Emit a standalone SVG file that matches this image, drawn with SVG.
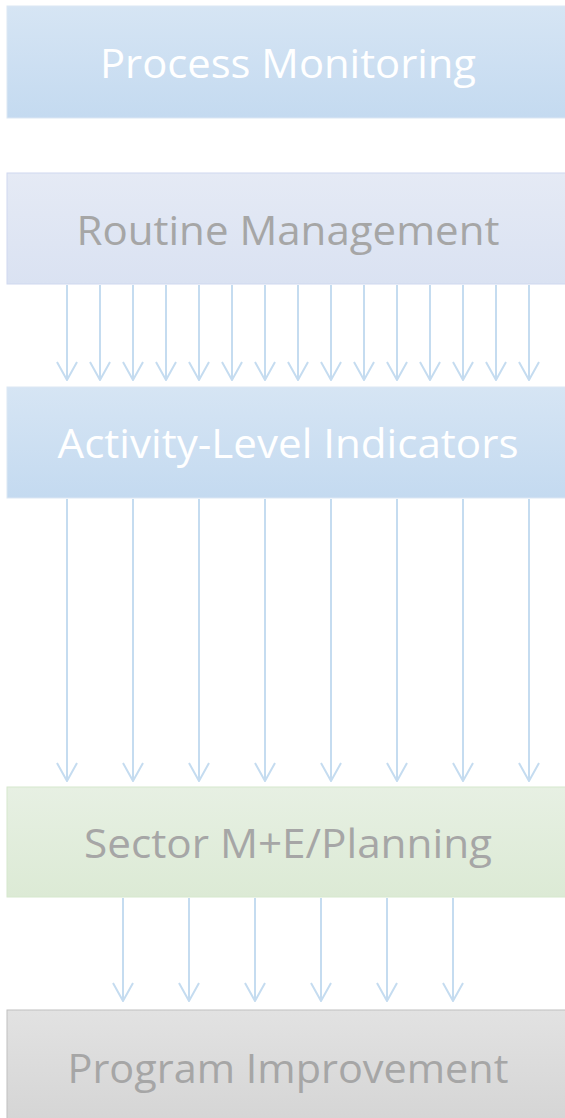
<svg xmlns="http://www.w3.org/2000/svg" width="565" height="1118" viewBox="0 0 565 1118">
<defs>
<linearGradient id="gBlue" x1="0" y1="0" x2="0" y2="1"><stop offset="0" stop-color="#d6e5f4"/><stop offset="1" stop-color="#c4daf0"/></linearGradient>
<linearGradient id="gLav" x1="0" y1="0" x2="0" y2="1"><stop offset="0" stop-color="#e5eaf5"/><stop offset="1" stop-color="#dae2f2"/></linearGradient>
<linearGradient id="gGreen" x1="0" y1="0" x2="0" y2="1"><stop offset="0" stop-color="#e7f0e3"/><stop offset="1" stop-color="#dcead5"/></linearGradient>
<linearGradient id="gGray" x1="0" y1="0" x2="0" y2="1"><stop offset="0" stop-color="#e2e2e2"/><stop offset="1" stop-color="#d5d5d5"/></linearGradient>
<marker id="arr" viewBox="0 0 20 24" refX="19" refY="12" markerWidth="20" markerHeight="24" markerUnits="userSpaceOnUse" orient="auto">
<path d="M1,2 L19,12 L1,22" fill="none" stroke="#c5dcf0" stroke-width="2"/>
</marker>
</defs>
<style>
.lbl{font-family:"Open Sans","Liberation Sans",sans-serif;font-size:41px;text-anchor:middle}
.w{fill:#ffffff}
.g{fill:#a6a6a6}
.c line{stroke:#c5dcf0;stroke-width:2;marker-end:url(#arr)}
</style>
<g id="process-monitoring">
<rect x="7" y="6" width="565" height="112" fill="url(#gBlue)" stroke="#dce7f4" stroke-width="1"/>
<text class="lbl w" x="288" y="78" textLength="376" lengthAdjust="spacingAndGlyphs">Process Monitoring</text>
</g>
<g id="routine-management">
<rect x="7" y="173" width="565" height="111" fill="url(#gLav)" stroke="#cfd8ef" stroke-width="1"/>
<text class="lbl g" x="288" y="245" textLength="423" lengthAdjust="spacingAndGlyphs">Routine Management</text>
</g>
<g id="activity-level-indicators">
<rect x="7" y="387" width="565" height="111" fill="url(#gBlue)" stroke="#dce7f4" stroke-width="1"/>
<text class="lbl w" x="288" y="458" textLength="461" lengthAdjust="spacingAndGlyphs">Activity-Level Indicators</text>
</g>
<g id="sector-me-planning">
<rect x="7" y="787" width="565" height="110" fill="url(#gGreen)" stroke="#d6e8cd" stroke-width="1"/>
<text class="lbl g" x="288" y="858" textLength="408" lengthAdjust="spacingAndGlyphs">Sector M+E/Planning</text>
</g>
<g id="program-improvement">
<rect x="7" y="1010" width="565" height="112" fill="url(#gGray)" stroke="#c0c0c0" stroke-width="1"/>
<text class="lbl g" x="288" y="1083" textLength="441" lengthAdjust="spacingAndGlyphs">Program Improvement</text>
</g>
<g id="connectors" class="c">
<line x1="67" y1="285" x2="67" y2="380"/>
<line x1="100" y1="285" x2="100" y2="380"/>
<line x1="133" y1="285" x2="133" y2="380"/>
<line x1="166" y1="285" x2="166" y2="380"/>
<line x1="199" y1="285" x2="199" y2="380"/>
<line x1="232" y1="285" x2="232" y2="380"/>
<line x1="265" y1="285" x2="265" y2="380"/>
<line x1="298" y1="285" x2="298" y2="380"/>
<line x1="331" y1="285" x2="331" y2="380"/>
<line x1="364" y1="285" x2="364" y2="380"/>
<line x1="397" y1="285" x2="397" y2="380"/>
<line x1="430" y1="285" x2="430" y2="380"/>
<line x1="463" y1="285" x2="463" y2="380"/>
<line x1="496" y1="285" x2="496" y2="380"/>
<line x1="529" y1="285" x2="529" y2="380"/>
<line x1="67" y1="499" x2="67" y2="781"/>
<line x1="133" y1="499" x2="133" y2="781"/>
<line x1="199" y1="499" x2="199" y2="781"/>
<line x1="265" y1="499" x2="265" y2="781"/>
<line x1="331" y1="499" x2="331" y2="781"/>
<line x1="397" y1="499" x2="397" y2="781"/>
<line x1="463" y1="499" x2="463" y2="781"/>
<line x1="529" y1="499" x2="529" y2="781"/>
<line x1="123" y1="898" x2="123" y2="1001"/>
<line x1="189" y1="898" x2="189" y2="1001"/>
<line x1="255" y1="898" x2="255" y2="1001"/>
<line x1="321" y1="898" x2="321" y2="1001"/>
<line x1="387" y1="898" x2="387" y2="1001"/>
<line x1="453" y1="898" x2="453" y2="1001"/>
</g>
</svg>
